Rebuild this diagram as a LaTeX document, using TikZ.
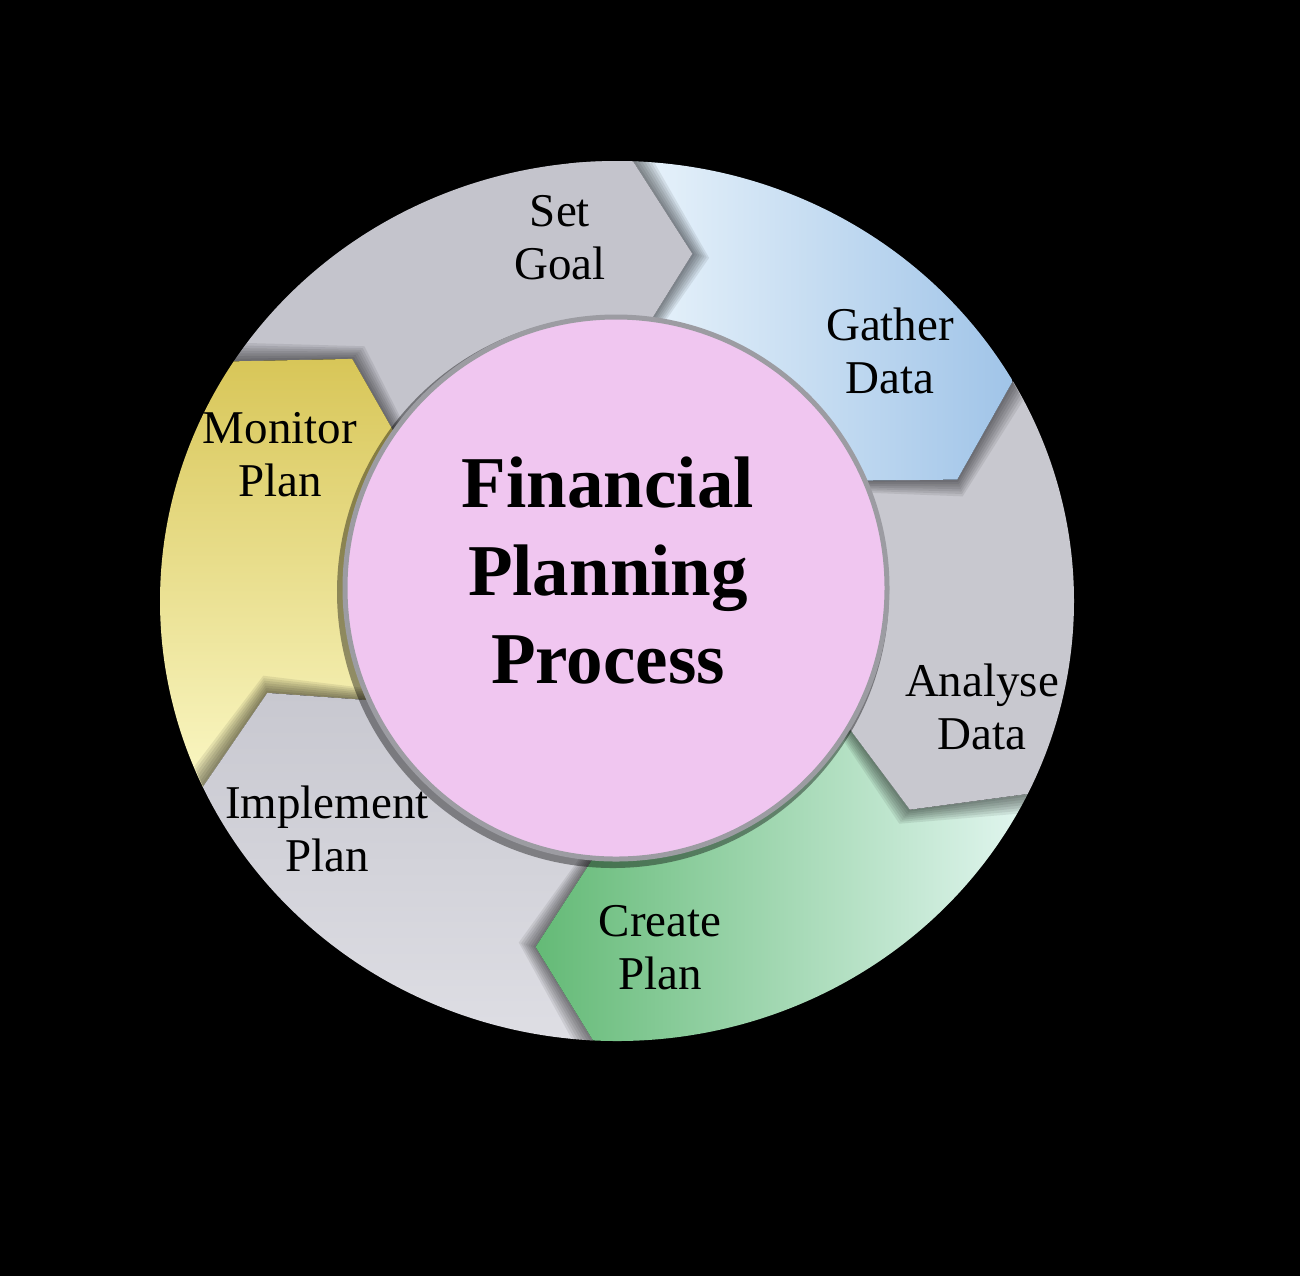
\documentclass[tikz,border=0pt]{standalone}
\usepackage{fontspec}
\setmainfont{Liberation Serif}
\usetikzlibrary{calc}

\definecolor{goalgray}{RGB}{196,196,204}
\definecolor{ringgray}{RGB}{200,200,207}
\definecolor{implgray}{RGB}{200,200,208}
\definecolor{impllight}{RGB}{222,222,228}
\definecolor{gatherleft}{RGB}{234,244,251}
\definecolor{gatherright}{RGB}{160,196,232}
\definecolor{createleft}{RGB}{100,186,118}
\definecolor{createright}{RGB}{226,246,240}
\definecolor{monitortop}{RGB}{216,198,88}
\definecolor{monitorbot}{RGB}{250,247,196}
\definecolor{hubpink}{RGB}{240,198,240}
\definecolor{hubrim}{RGB}{156,156,162}

% one arrow of the ring: #1 tail angle, #2 head angle
\newcommand{\ringseg}[2]{(#1:457 and 440) arc[start angle=#1, end angle=#2, x radius=457, y radius=440] -- (#2-10:362 and 355) -- (#2:240) arc[start angle=#2, end angle=#1, radius=240] -- (#1-10:362 and 355) -- cycle}
\newcommand{\headwedge}{(96:457 and 440) arc[start angle=96, end angle=88, x radius=457, y radius=440] -- (78:362 and 355) -- (88:240) arc[start angle=88, end angle=96, radius=240] -- cycle}
\newcommand{\segshadow}[2]{\foreach \r in {0.4,0.8,...,3.2}{\fill[black,opacity=.08,rotate=-\r] \ringseg{#1}{#2};}}

\tikzset{
  seglabel/.style={align=center, font=\fontsize{23.5}{26.5}\selectfont},
  titlelabel/.style={align=center, font=\fontsize{36.5}{44}\selectfont\bfseries},
  hubcircle/.style={circle, minimum size=271pt, inner sep=0pt, fill=hubpink, draw=hubrim, line width=2.5pt}
}

\begin{document}
\begin{tikzpicture}[x=0.5pt,y=0.5pt]
  \fill[black] (0,0) rectangle (1300,-1276);
  \useasboundingbox (0,0) rectangle (1300,-1276);

  \begin{scope}[shift={(617,-601)}]
    % set goal
    \segshadow{147}{88}
    \fill[goalgray] \ringseg{147}{88};
    % monitor plan
    \segshadow{-155}{-213}
    \shade[top color=monitortop, bottom color=monitorbot] \ringseg{-155}{-213};
    % implement plan
    \segshadow{-93}{-155}
    \shade[top color=implgray, bottom color=impllight] \ringseg{-93}{-155};
    % create plan
    \segshadow{-26}{-93}
    \shade[left color=createleft, right color=createright] \ringseg{-26}{-93};
    % analyse data
    \segshadow{30}{-26}
    \fill[ringgray] \ringseg{30}{-26};
    % gather data
    \segshadow{88}{30}
    \shade[left color=gatherleft, right color=gatherright] \ringseg{88}{30};
    % head of set goal over gather data
    \foreach \r in {0.4,0.8,...,3.2}{\fill[black,opacity=.08,rotate=-\r] \headwedge;}
    \fill[goalgray] \headwedge;
  \end{scope}

  \fill[black,opacity=.4] (613,-592) circle (276);
  \node[hubcircle] (hub) at (616,-588) {};
  \node[titlelabel] (title) at ($(hub.center)+(-8,17)$) {Financial\\Planning\\Process};

  \node[seglabel] (setgoal) at (560,-238) {Set\\Goal};
  \node[seglabel] (gather) at (890,-351) {Gather\\Data};
  \node[seglabel] (analyse) at (982,-707) {Analyse\\Data};
  \node[seglabel] (create) at (660,-948) {Create\\Plan};
  \node[seglabel] (implement) at (327,-829) {Implement\\Plan};
  \node[seglabel] (monitor) at (280,-455) {Monitor\\Plan};
\end{tikzpicture}
\end{document}
